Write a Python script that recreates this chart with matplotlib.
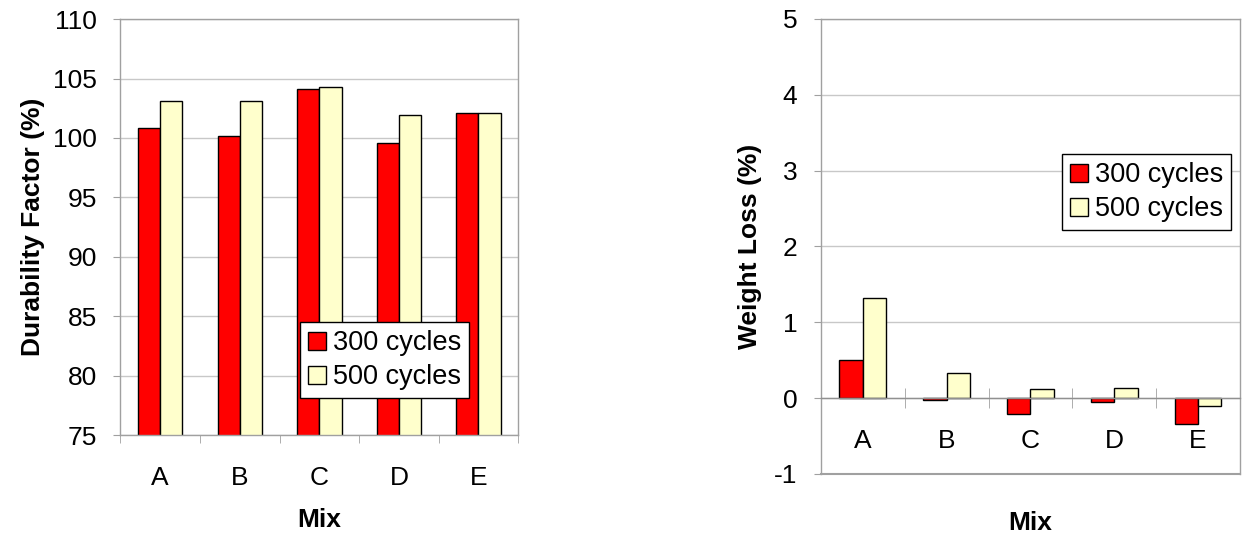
import numpy as np
import matplotlib
matplotlib.use("Agg")
import matplotlib.pyplot as plt

plt.rcParams["font.family"] = ["Liberation Sans", "DejaVu Sans"]
plt.rcParams["axes.unicode_minus"] = False

mixes = ["A", "B", "C", "D", "E"]
series = ["300 cycles", "500 cycles"]

# durability factor (%)
df_300 = [100.8, 100.2, 104.1, 99.6, 102.1]
df_500 = [103.1, 103.1, 104.3, 101.9, 102.1]

# weight loss (%)
wl_300 = [0.50, -0.02, -0.21, -0.05, -0.34]
wl_500 = [1.32, 0.33, 0.12, 0.13, -0.10]

colors = ["#FF0000", "#FFFFCC"]
grid_c = "#C8C8C8"
spine_c = "#A0A0A0"
width = 0.28
tick_fs = 19
label_fs = 19

fig = plt.figure(figsize=(12.43, 5.36), dpi=100)
ax1 = fig.add_axes([0.0969, 0.1884, 0.32, 0.776])
ax2 = fig.add_axes([0.6605, 0.1157, 0.337, 0.849])

x = np.arange(len(mixes))


def style(ax):
    ax.set_axisbelow(True)
    ax.yaxis.grid(True, color=grid_c, linewidth=1)
    for s in ax.spines.values():
        s.set_color(spine_c)
        s.set_linewidth(1)
    ax.tick_params(axis="y", colors=spine_c, labelcolor="black",
                   labelsize=tick_fs, length=5, pad=12)
    ax.tick_params(axis="x", which="major", length=0, labelsize=tick_fs,
                   labelcolor="black", pad=22)
    ax.tick_params(axis="x", which="minor", colors=spine_c, length=6)
    ax.set_xticks(x)
    ax.set_xticklabels(mixes)
    ax.set_xticks(np.arange(len(mixes) + 1) - 0.5, minor=True)
    ax.set_xlim(-0.5, len(mixes) - 0.5)


def add_legend(ax, **kw):
    leg = ax.legend(fontsize=19.5, frameon=True, fancybox=False,
                    edgecolor="black", framealpha=1,
                    handlelength=0.65, handleheight=0.65, handletextpad=0.25,
                    borderpad=0.3, labelspacing=0.3, borderaxespad=0, **kw)
    leg.get_frame().set_linewidth(1)
    return leg


# left: durability factor
ax1.bar(x - width / 2, df_300, width, color=colors[0],
        edgecolor="black", linewidth=1, label=series[0])
ax1.bar(x + width / 2, df_500, width, color=colors[1],
        edgecolor="black", linewidth=1, label=series[1])
style(ax1)
ax1.set_ylim(75, 110)
ax1.set_yticks(np.arange(75, 111, 5))
ax1.tick_params(axis="x", which="minor", direction="out")
ax1.set_ylabel("Durability Factor (%)", fontsize=label_fs, fontweight="bold",
               labelpad=6)
ax1.set_xlabel("Mix", fontsize=label_fs, fontweight="bold")
ax1.xaxis.set_label_coords(0.5, -0.175)
add_legend(ax1, loc="lower left", bbox_to_anchor=(0.452, 0.088))

# right: weight loss
ax2.bar(x - width / 2, wl_300, width, color=colors[0],
        edgecolor="black", linewidth=1, label=series[0])
ax2.bar(x + width / 2, wl_500, width, color=colors[1],
        edgecolor="black", linewidth=1, label=series[1])
style(ax2)
ax2.set_ylim(-1, 5)
ax2.set_yticks(np.arange(-1, 6, 1))
ax2.spines["bottom"].set_position(("data", 0))
ax2.spines["bottom"].set_color("#909090")
ax2.axhline(-1, color=spine_c, linewidth=1.5, clip_on=False)
ax2.tick_params(axis="x", which="minor", direction="inout", length=14)
ax2.set_ylabel("Weight Loss (%)", fontsize=label_fs, fontweight="bold",
               labelpad=9)
ax2.set_xlabel("Mix", fontsize=label_fs, fontweight="bold")
ax2.xaxis.set_label_coords(0.5, -0.081)
add_legend(ax2, loc="upper right", bbox_to_anchor=(0.979, 0.703))

fig.savefig("out.png", dpi=100)
